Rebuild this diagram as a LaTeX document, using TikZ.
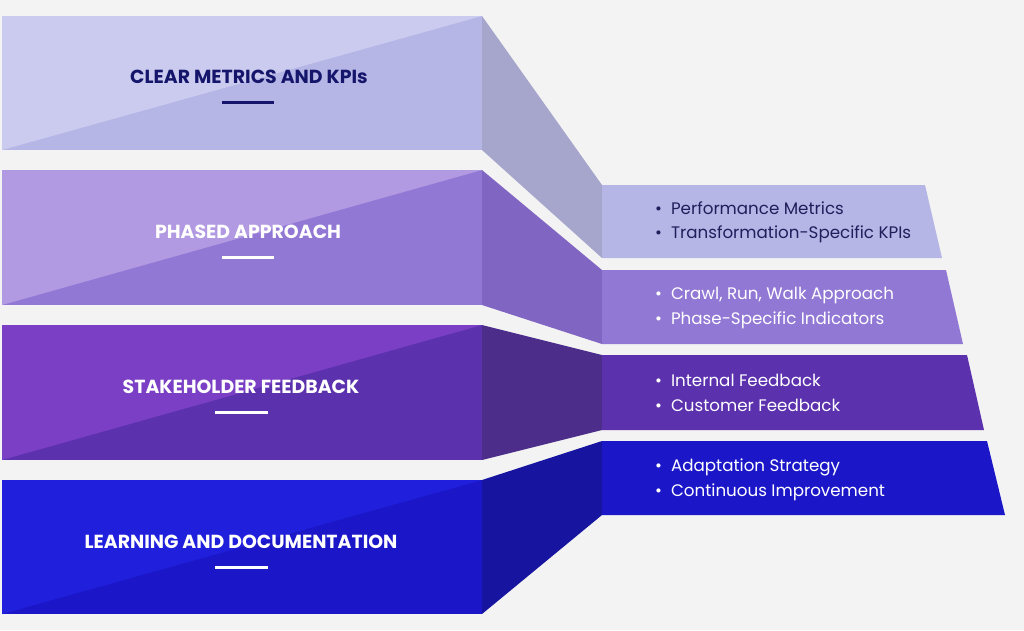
\documentclass[tikz,border=0pt]{standalone}
\usepackage{fontspec}
\setmainfont{Poppins}
\definecolor{bgc}{HTML}{F3F3F3}
\definecolor{aL}{HTML}{CBCBF0}
\definecolor{aD}{HTML}{B5B5E6}
\definecolor{aS}{HTML}{A6A6CC}
\definecolor{bL}{HTML}{B19AE1}
\definecolor{bD}{HTML}{9278D5}
\definecolor{bS}{HTML}{8165C3}
\definecolor{cL}{HTML}{7A3FC5}
\definecolor{cD}{HTML}{5C31AE}
\definecolor{cS}{HTML}{4C2E8A}
\definecolor{dL}{HTML}{201FDC}
\definecolor{dD}{HTML}{1B17C9}
\definecolor{dS}{HTML}{17159F}
\definecolor{navy}{HTML}{15166B}
\definecolor{navyt}{HTML}{1F1F5C}
\tikzset{
  title/.style={font=\bfseries\fontsize{18.9}{22}\selectfont, inner sep=0pt},
  item/.style={font=\fontsize{16.7}{19}\selectfont, anchor=west, inner sep=0pt},
  bar/.style={line width=3pt},
}
\newcommand{\bul}{\textbullet\hspace{9pt}}
\begin{document}
\begin{tikzpicture}[x=1pt,y=-1pt]
\fill[bgc] (0,0) rectangle (1024,630);
\useasboundingbox (0,0) rectangle (1024,630);
% block 1
\fill[aD] (2,16) rectangle (482,150);
\fill[aL] (2,16) -- (482,16) -- (2,150) -- cycle;
\fill[aS] (482,16) -- (602,185) -- (602,258) -- (482,150) -- cycle;
\fill[aD] (602,185) -- (925,185) -- (942,258) -- (602,258) -- cycle;
% block 2
\fill[bD] (2,170) rectangle (482,305);
\fill[bL] (2,170) -- (482,170) -- (2,305) -- cycle;
\fill[bS] (482,170) -- (602,270) -- (602,344) -- (482,305) -- cycle;
\fill[bD] (602,270) -- (946,270) -- (963,344) -- (602,344) -- cycle;
% block 3
\fill[cD] (2,325) rectangle (482,460);
\fill[cL] (2,325) -- (482,325) -- (2,460) -- cycle;
\fill[cS] (482,325) -- (602,355) -- (602,430) -- (482,460) -- cycle;
\fill[cD] (602,355) -- (967,355) -- (984,430) -- (602,430) -- cycle;
% block 4
\fill[dD] (2,480) rectangle (482,614);
\fill[dL] (2,480) -- (482,480) -- (2,614) -- cycle;
\fill[dS] (482,480) -- (602,441) -- (602,515) -- (482,614) -- cycle;
\fill[dD] (602,441) -- (987,441) -- (1005,515) -- (602,515) -- cycle;
% titles
\node[title, text=navy] (t1) at (249,77) {CLEAR METRICS AND KPIs};
\draw[bar, navy] (222,102) -- (274,102);
\node[title, text=white] (t2) at (248,232) {PHASED APPROACH};
\draw[bar, white] (222,257) -- (274,257);
\node[title, text=white] (t3) at (241,387) {STAKEHOLDER FEEDBACK};
\draw[bar, white] (215,412) -- (268,412);
\node[title, text=white] (t4) at (241,542) {LEARNING AND DOCUMENTATION};
\draw[bar, white] (215,567) -- (268,567);
% items
\node[item, text=navyt] (i1a) at (655,208) {\bul Performance Metrics};
\node[item, text=navyt] (i1b) at (655,234) {\bul Transformation-Specific KPIs};
\node[item, text=white] (i2a) at (655,295) {\bul Crawl, Run, Walk Approach};
\node[item, text=white] (i2b) at (655,320) {\bul Phase-Specific Indicators};
\node[item, text=white] (i3a) at (655,380) {\bul Internal Feedback};
\node[item, text=white] (i3b) at (655,405) {\bul Customer Feedback};
\node[item, text=white] (i4a) at (655,467) {\bul Adaptation Strategy};
\node[item, text=white] (i4b) at (655,492) {\bul Continuous Improvement};
\end{tikzpicture}
\end{document}
